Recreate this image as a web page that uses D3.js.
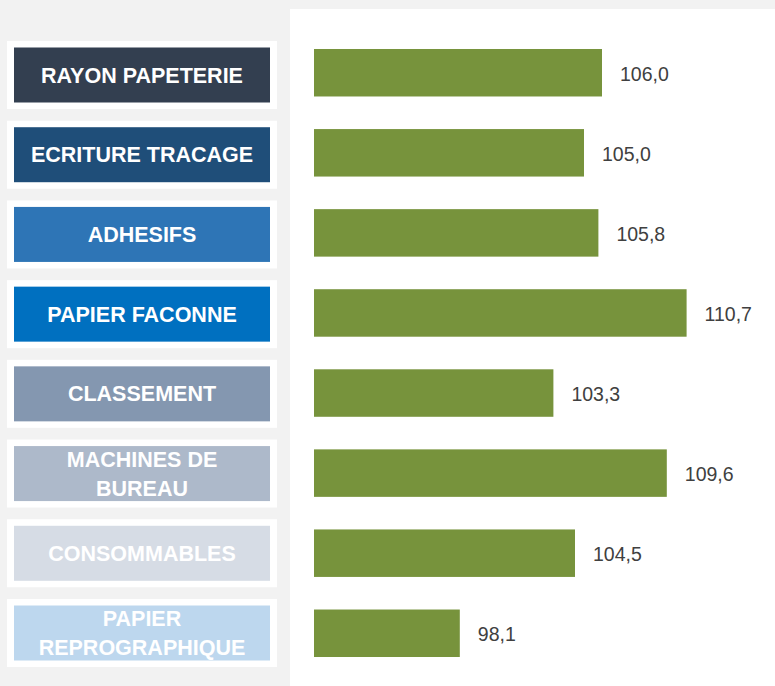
<!DOCTYPE html>
<html>
<head>
<meta charset="utf-8">
<script src="https://cdn.jsdelivr.net/npm/d3@7"></script>
<style>
  body { margin: 0; background: #f2f2f2; }
  svg { display: block; font-family: "Liberation Sans", Arial, sans-serif; }
</style>
</head>
<body>
<div id="chart"></div>
<script>
// categories (one label per line) and their values
const categories = ['RAYON PAPETERIE', 'ECRITURE TRACAGE', 'ADHESIFS', 'PAPIER FACONNE',
                    'CLASSEMENT', 'MACHINES DE BUREAU', 'CONSOMMABLES', 'PAPIER REPROGRAPHIQUE'];
const labelLines = [['RAYON PAPETERIE'], ['ECRITURE TRACAGE'], ['ADHESIFS'], ['PAPIER FACONNE'],
                    ['CLASSEMENT'], ['MACHINES DE', 'BUREAU'], ['CONSOMMABLES'], ['PAPIER', 'REPROGRAPHIQUE']];
const values = [106.0, 105.0, 105.8, 110.7, 103.3, 109.6, 104.5, 98.1];
const boxColors = ['#333f50', '#1f4e79', '#2e75b6', '#0070c0', '#8497b0', '#adb9ca', '#d6dce5', '#bdd7ee'];

const width = 775, height = 686;

const svg = d3.select('#chart').append('svg')
    .attr('width', width)
    .attr('height', height);

// grey page + white plot panel
svg.append('rect').attr('width', width).attr('height', height).attr('fill', '#f2f2f2');
svg.append('rect').attr('x', 290).attr('y', 9).attr('width', width - 290).attr('height', height - 9).attr('fill', '#ffffff');

const y = d3.scaleBand()
    .domain(categories)
    .range([32.7, 673.3])
    .paddingInner(0.407)
    .paddingOuter(0.2035);

// label boxes sit on a slightly tighter pitch than the bars
const yLabel = d3.scalePoint()
    .domain(categories)
    .range([75, 633]);

const x = d3.scaleLinear()
    .domain([90, 115])
    .range([314, 764]);

const fmt = v => d3.format('.1f')(v).replace('.', ',');

// label boxes on the left
const labels = svg.append('g').selectAll('g')
    .data(categories)
    .enter().append('g')
    .attr('transform', d => `translate(0, ${yLabel(d)})`);

labels.append('rect')
    .attr('x', 7).attr('y', -34)
    .attr('width', 270).attr('height', 68)
    .attr('fill', '#ffffff');

labels.append('rect')
    .attr('x', 14).attr('y', -27.5)
    .attr('width', 256).attr('height', 55)
    .attr('fill', (d, i) => boxColors[i]);

labels.append('text')
    .attr('text-anchor', 'middle')
    .attr('fill', '#ffffff')
    .style('font-weight', 'bold')
    .style('font-size', '21.5px')
    .each(function(d, i) {
        const lines = labelLines[i];
        const t = d3.select(this);
        lines.forEach((line, j) => {
            t.append('tspan')
                .attr('x', 142)
                .attr('y', (j - (lines.length - 1) / 2) * 29)
                .attr('dy', '0.35em')
                .text(line);
        });
    });

// bars
svg.append('g').selectAll('rect')
    .data(categories)
    .enter().append('rect')
    .attr('x', x(90))
    .attr('y', d => y(d))
    .attr('width', (d, i) => x(values[i]) - x(90))
    .attr('height', y.bandwidth())
    .attr('fill', '#77933c');

// value labels
svg.append('g').selectAll('text')
    .data(categories)
    .enter().append('text')
    .attr('x', (d, i) => x(values[i]) + 18)
    .attr('y', d => y(d) + y.bandwidth() / 2 + 1)
    .attr('dy', '0.35em')
    .attr('fill', '#404040')
    .style('font-size', '19.5px')
    .text((d, i) => fmt(values[i]));
</script>
</body>
</html>
